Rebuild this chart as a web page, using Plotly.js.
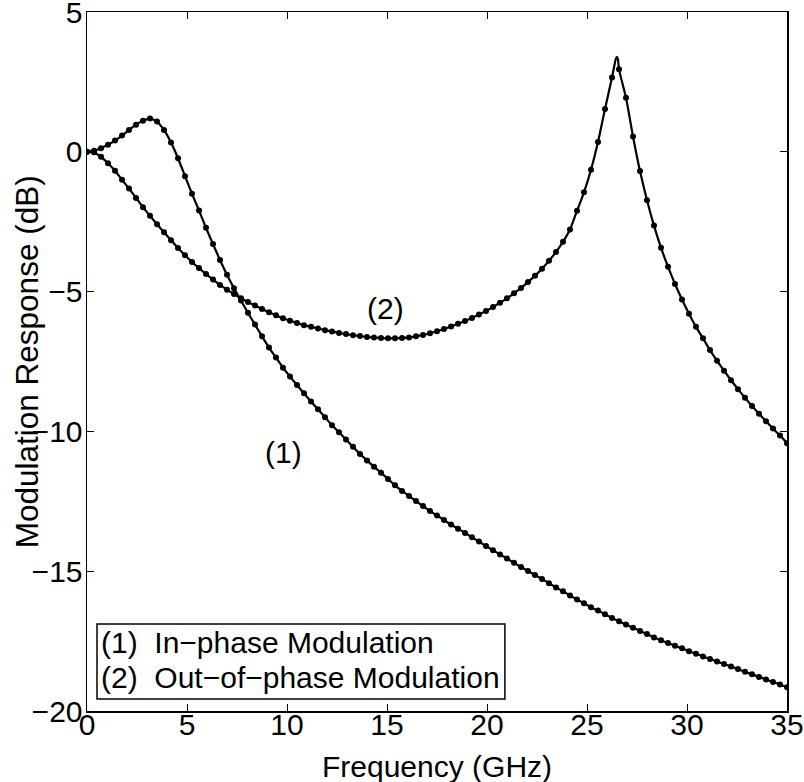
<!DOCTYPE html>
<html>
<head>
<meta charset="utf-8">
<script src="https://cdn.plot.ly/plotly-3.0.1.min.js"></script>
<style>html,body{margin:0;padding:0;background:#fff;}#chart{width:804px;height:782px;}</style>
</head>
<body>
<div id="chart"></div>
<script>
// Frequency grid of the sampled points (GHz)
const freq = [0,0.35,0.7,1.05,1.4,1.75,2.1,2.45,2.8,3.15,3.5,3.85,4.2,4.55,4.9,5.25,5.6,5.95,6.3,6.65,7,7.35,7.7,8.05,8.4,8.75,9.1,9.45,9.8,10.15,10.5,10.85,11.2,11.55,11.9,12.25,12.6,12.95,13.3,13.65,14,14.35,14.7,15.05,15.4,15.75,16.1,16.45,16.8,17.15,17.5,17.85,18.2,18.55,18.9,19.25,19.6,19.95,20.3,20.65,21,21.35,21.7,22.05,22.4,22.75,23.1,23.45,23.8,24.15,24.5,24.85,25.2,25.55,25.9,26.25,26.6,26.95,27.3,27.65,28,28.35,28.7,29.05,29.4,29.75,30.1,30.45,30.8,31.15,31.5,31.85,32.2,32.55,32.9,33.25,33.6,33.95,34.3,34.65,35];

// (1) In-phase modulation response (dB)
const inPhase = [0,0.04,0.13,0.25,0.40,0.58,0.78,0.97,1.11,1.19,1.08,0.78,0.33,-0.23,-0.87,-1.50,-2.10,-2.72,-3.30,-3.87,-4.40,-4.88,-5.32,-5.76,-6.18,-6.60,-7.00,-7.36,-7.72,-8.04,-8.34,-8.64,-8.93,-9.21,-9.49,-9.78,-10.03,-10.29,-10.55,-10.81,-11.04,-11.26,-11.48,-11.70,-11.93,-12.13,-12.31,-12.49,-12.67,-12.85,-13.01,-13.17,-13.33,-13.48,-13.63,-13.79,-13.94,-14.10,-14.25,-14.40,-14.55,-14.70,-14.85,-14.99,-15.14,-15.28,-15.43,-15.58,-15.72,-15.87,-16.01,-16.15,-16.29,-16.41,-16.54,-16.67,-16.79,-16.91,-17.02,-17.14,-17.25,-17.37,-17.47,-17.57,-17.67,-17.76,-17.86,-17.95,-18.05,-18.14,-18.23,-18.32,-18.41,-18.50,-18.60,-18.69,-18.78,-18.87,-18.96,-19.05,-19.15];

// (2) Out-of-phase modulation response (dB)
const outPhase = [0,-0.02,-0.18,-0.41,-0.68,-1.00,-1.31,-1.65,-1.98,-2.29,-2.59,-2.88,-3.16,-3.44,-3.70,-3.94,-4.16,-4.37,-4.57,-4.76,-4.93,-5.09,-5.24,-5.37,-5.50,-5.62,-5.74,-5.85,-5.95,-6.04,-6.12,-6.20,-6.26,-6.32,-6.38,-6.43,-6.48,-6.52,-6.56,-6.59,-6.62,-6.64,-6.66,-6.67,-6.67,-6.66,-6.64,-6.60,-6.55,-6.49,-6.42,-6.34,-6.25,-6.15,-6.05,-5.94,-5.82,-5.69,-5.55,-5.40,-5.24,-5.06,-4.87,-4.66,-4.43,-4.18,-3.90,-3.58,-3.22,-2.78,-2.11,-1.45,-0.64,0.35,1.53,2.66,2.95,1.93,0.55,-0.69,-1.73,-2.64,-3.43,-4.11,-4.73,-5.28,-5.79,-6.26,-6.67,-7.09,-7.47,-7.83,-8.17,-8.49,-8.80,-9.09,-9.37,-9.64,-9.90,-10.15,-10.42];

// Rounded resonance top of the continuous out-of-phase curve (between samples)
const peakFreq = [26.36, 26.44, 26.5, 26.55];
const peakVal = [3.05, 3.32, 3.40, 3.30];

// Axis ticks
const xTicks = [0, 5, 10, 15, 20, 25, 30, 35];
const yTicks = [-20, -15, -10, -5, 0, 5];
const yTickText = ['\u221220', '\u221215', '\u221210', '\u22125', '0', '5'];

// Texts
const xTitle = 'Frequency (GHz)';
const yTitle = 'Modulation Response (dB)';
const curveLabels = ['(1)', '(2)'];
const labelFreq = [9.8, 14.9];
const labelVal = [-10.75, -5.6];
const legendLines = ['(1)\u00a0\u00a0In\u2212phase Modulation', '(2)\u00a0\u00a0Out\u2212of\u2212phase Modulation'];

// continuous line for curve 2 = samples plus the resonance top
const line2 = freq.map((f, i) => [f, outPhase[i]]).concat(peakFreq.map((f, i) => [f, peakVal[i]])).sort((a, b) => a[0] - b[0]);

const FONT = 'Liberation Sans, Arial, Helvetica, sans-serif';
const FS = 30;
const txt = (s) => ({family: FONT, size: s, color: '#000'});

const traces = [
  {x: freq, y: inPhase, type: 'scatter', mode: 'lines', line: {color: '#000', width: 2.2, shape: 'spline', smoothing: 0.6}, hoverinfo: 'skip', showlegend: false},
  {x: freq, y: inPhase, type: 'scatter', mode: 'markers', marker: {color: '#000', size: 6}, showlegend: false},
  {x: line2.map(p => p[0]), y: line2.map(p => p[1]), type: 'scatter', mode: 'lines', line: {color: '#000', width: 2.2, shape: 'spline', smoothing: 0.6}, hoverinfo: 'skip', showlegend: false},
  {x: freq, y: outPhase, type: 'scatter', mode: 'markers', marker: {color: '#000', size: 6}, showlegend: false}
];

const annotations = curveLabels.map((t, i) => ({
  x: labelFreq[i], y: labelVal[i], xref: 'x', yref: 'y', text: t, showarrow: false, font: txt(FS)
}));
// legend rows (text only, as in the original box legend)
const legendRowY = [0.098, 0.048];
legendLines.forEach((t, i) => annotations.push({
  xref: 'paper', yref: 'paper', x: 0.0165, y: legendRowY[i], xanchor: 'left', yanchor: 'middle',
  text: t, showarrow: false, font: txt(FS)
}));
// axis titles
annotations.push({xref: 'paper', yref: 'paper', x: 0.5, y: -0.08, xanchor: 'center', yanchor: 'middle',
  text: xTitle, showarrow: false, font: txt(FS)});
annotations.push({xref: 'paper', yref: 'paper', x: -0.086, y: 0.5, xanchor: 'center', yanchor: 'middle',
  text: yTitle, textangle: -90, showarrow: false, font: txt(31.5)});

const axisCommon = {
  showgrid: false, zeroline: false, showline: true, linecolor: '#000', linewidth: 1.5,
  mirror: 'ticks', ticks: 'inside', ticklen: 7, tickwidth: 1, tickcolor: '#000',
  tickfont: txt(FS), ticklabeloverflow: 'allow', tickmode: 'array'
};

const layout = {
  width: 804, height: 782,
  margin: {l: 87, r: 17, t: 12, b: 71},
  paper_bgcolor: '#fff', plot_bgcolor: '#fff',
  font: {family: FONT, color: '#000'},
  xaxis: Object.assign({}, axisCommon, {range: [0, 35], tickvals: xTicks, ticktext: xTicks.map(String), ticklabelstandoff: -14}),
  yaxis: Object.assign({}, axisCommon, {range: [-20, 5], tickvals: yTicks, ticktext: yTickText, ticklabelstandoff: -3}),
  annotations: annotations,
  shapes: [{type: 'rect', xref: 'paper', yref: 'paper', x0: 0.0143, x1: 0.597, y0: 0.0172, y1: 0.1245,
    line: {color: '#000', width: 1.5}, fillcolor: 'rgba(255,255,255,1)', layer: 'above'}],
  showlegend: false
};

Plotly.newPlot('chart', traces, layout, {displayModeBar: false, staticPlot: true});
</script>
</body>
</html>
